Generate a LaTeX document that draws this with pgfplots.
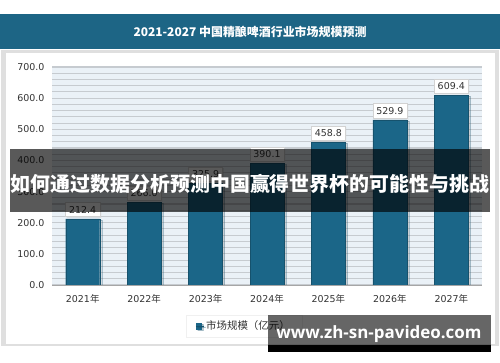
\documentclass[border=0pt]{standalone}
\usepackage{pgfplots}
\pgfplotsset{compat=1.18}
\usepackage{fontspec}
\usetikzlibrary{shadows}
\setmainfont{DejaVu Sans}
\newfontfamily\dv{DejaVu Sans}
\newfontfamily\cjk{Noto Sans CJK SC}
\newfontfamily\osans{Open Sans}
\definecolor{barc}{HTML}{1B6688}
\definecolor{banner}{HTML}{1D6585}
\definecolor{plotbg}{HTML}{EAF1F7}
\definecolor{gridc}{HTML}{C6CBD0}
\definecolor{txt}{HTML}{333333}
\begin{document}
\begin{tikzpicture}[x=1bp,y=1bp]
% canvas
\fill[white] (0,0) rectangle (500,362);
% title banner
\fill[banner] (0,362-14) rectangle (500,362-49);
\node[text=white, font=\cjk\bfseries\fontsize{12}{14}\selectfont] at (250,362-32) {2021-2027 中国精酿啤酒行业市场规模预测};
% panel
\fill[gray!25] (1,362-50) rectangle (499,362-346);
\fill[white] (6,362-53) rectangle (495,362-344);
\begin{axis}[
  at={(52bp,77bp)}, anchor=south west,
  scale only axis, width=430bp, height=218bp,
  xmin=-0.5, xmax=6.5, ymin=0, ymax=700,
  xtick=data,
  xticklabels={2021{\cjk 年},2022{\cjk 年},2023{\cjk 年},2024{\cjk 年},2025{\cjk 年},2026{\cjk 年},2027{\cjk 年}},
  ytick={0,100,...,700},
  minor y tick num=4,
  ymajorgrids, yminorgrids,
  major grid style={gridc, line width=1.1bp},
  minor grid style={gridc, line width=1.1bp},
  major tick length=0pt, minor tick length=0pt,
  axis line style={draw=none},
  axis background/.style={fill=plotbg},
  /pgf/number format/assume math mode=true,
  yticklabel style={/pgf/number format/fixed, /pgf/number format/fixed zerofill, /pgf/number format/precision=1, xshift=-4bp},
  tick label style={font=\dv\fontsize{9.5}{11}\selectfont, text=txt},
  xticklabel style={yshift=-6bp},
  ybar, bar width=34bp,
  nodes near coords,
  nodes near coords style={/pgf/number format/fixed, /pgf/number format/fixed zerofill, /pgf/number format/precision=1},
  every node near coord/.append style={font=\dv\fontsize{9.5}{11}\selectfont, text=txt,
     fill=white, draw=gray!35, inner xsep=3.5bp, inner ysep=3.5bp, yshift=2bp,
     drop shadow={shadow xshift=1bp, shadow yshift=-1bp, opacity=0.15}},
  legend style={at={(0.446,-0.188)}, anchor=center, draw=gray!12, fill=white,
     font=\cjk\fontsize{10.5}{12}\selectfont, text=txt,
     inner xsep=10bp, inner ysep=4bp, drop shadow={shadow xshift=1bp, shadow yshift=-1bp, opacity=0.12}},
  legend image code/.code={\fill[barc] (0bp,-2.8bp) rectangle (5.5bp,2.8bp); \path (0bp,0bp) -- (8bp,0bp);},
]
\addplot[fill=barc, draw=barc!80!black, line width=0.4bp,
  drop shadow={shadow xshift=2bp, shadow yshift=-1bp, opacity=0.3}]
  coordinates {(0,212.4) (1,266.0) (2,325.9) (3,390.1) (4,458.8) (5,529.9) (6,609.4)};
\addlegendentry{市场规模（亿元）}
\draw[gray!70, line width=1bp] (axis cs:-0.5,0) -- (axis cs:6.5,0);
\end{axis}
% overlay banner
\fill[black, opacity=0.65] (10,362-149) rectangle (490,362-212);
\node[text=white, font=\cjk\bfseries\fontsize{20}{22}\selectfont] at (250,362-184) {如何通过数据分析预测中国赢得世界杯的可能性与挑战};
% watermark
\fill[black, opacity=0.6] (268,362-315) rectangle (491,362-345);
\fill[black] (268,362-345) rectangle (491,362-352);
\node[text=white, font=\osans\bfseries\fontsize{17}{19}\selectfont] at (379,362-334) {www.zh-sn-pavideo.com};
\end{tikzpicture}
\end{document}
